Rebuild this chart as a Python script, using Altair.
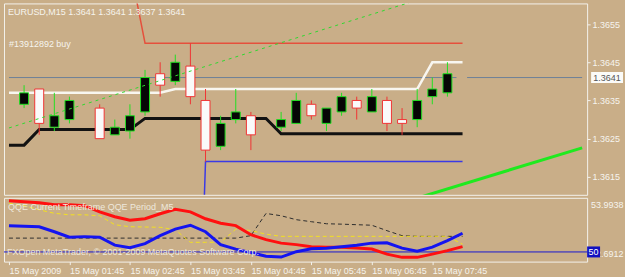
import json
import altair as alt
import pandas as pd

FONT = "Liberation Sans"
BG = "#C9AE88"
FRAME = "#F3F1EB"
TXT = "#F6F4EE"
GREEN = "#22E022"
RED = "#F03434"

# ---------------- texts ----------------
HEADER = "EURUSD,M15  1.3641 1.3641 1.3637 1.3641"
ORDER_LABEL = "#13912892 buy"
QQE_LABEL = "QQE Current Timeframe  QQE Period_M5"
COPYRIGHT = "FXOpen MetaTrader, \u00a9 2001-2009 MetaQuotes Software Corp."
QQE_MAX_LABEL = "53.9938"
QQE_MIN_LABEL = "52.6912"
LEVEL_LABEL = "50"
BID_LABEL = "1.3641"

# ---------------- axes ----------------
X_DOMAIN = [-1, 36.91]
PRICE_DOMAIN = [1.36103, 1.36604]
QQE_DOMAIN = [49.287, 53.9938]
PRICE_TICKS = [1.3615, 1.3625, 1.3635, 1.3645, 1.3655]
TIME_TICK_IDX = [-1, 3, 7, 11, 15, 19, 23, 27]
TIME_LABELS = ["15 May 2009", "15 May 01:45", "15 May 02:45", "15 May 03:45",
               "15 May 04:45", "15 May 05:45", "15 May 06:45", "15 May 07:45"]

# ---------------- candles ----------------
BAR_IDX = [0, 1, 2, 3, 5, 6, 7, 8, 9, 10, 11, 12, 13, 14, 15, 17, 18, 19, 20, 21, 22, 23, 24, 25, 26, 27, 28]
OPEN = [1.3634, 1.3638, 1.3628, 1.3630, 1.3633, 1.3626, 1.3627, 1.3632, 1.3642, 1.3640, 1.3644, 1.3635, 1.3623,
        1.3630, 1.3631, 1.3628, 1.3629, 1.3634, 1.3629, 1.3632, 1.3635, 1.3632, 1.3635, 1.3630, 1.3630, 1.3636, 1.3637]
HIGH = [1.3639, 1.3638, 1.3637, 1.3636, 1.3634, 1.3630, 1.3634, 1.3643, 1.3645, 1.3647, 1.3650, 1.3638, 1.3631,
        1.3638, 1.3632, 1.3632, 1.3637, 1.3635, 1.3633, 1.3637, 1.3636, 1.3638, 1.3636, 1.3633, 1.3638, 1.3641, 1.3645]
LOW = [1.3633, 1.3626, 1.3627, 1.3629, 1.3625, 1.3626, 1.3625, 1.3631, 1.3636, 1.3639, 1.3634, 1.3619, 1.3622,
       1.3629, 1.3622, 1.3627, 1.3629, 1.3630, 1.3627, 1.3631, 1.3630, 1.3632, 1.3627, 1.3626, 1.3628, 1.3634, 1.3636]
CLOSE = [1.3637, 1.3629, 1.3631, 1.3635, 1.3625, 1.3628, 1.3631, 1.3641, 1.3639, 1.3645, 1.3636, 1.3622, 1.3629,
         1.3632, 1.3626, 1.3630, 1.3635, 1.3631, 1.3633, 1.3636, 1.3633, 1.3636, 1.3629, 1.3629, 1.3635, 1.3638, 1.3642]

# ---------------- main-panel indicator lines ----------------
LINE_IDX = [-1, 0, 1, 2, 3, 4, 5, 6, 7, 8, 9, 10, 11, 12, 13, 14, 15, 16, 17, 18, 19, 20,
            21, 22, 23, 24, 25, 26, 27, 28, 29]
WHITE_LINE = [1.3637, 1.3637, 1.3637, 1.3637, 1.3637, 1.3637, 1.3637, 1.3637, 1.3637, 1.3637, 1.3637,
              1.3638, 1.3638, 1.3638, 1.3638, 1.3638, 1.3638, 1.3638, 1.3638, 1.3638, 1.3638, 1.3638,
              1.3638, 1.3638, 1.3638, 1.3638, 1.3638, 1.3638, 1.3645, 1.3645, 1.3645]
BLACK_LINE = [1.36233, 1.36233, 1.36274, 1.36274, 1.36274, 1.36274, 1.36274, 1.36274, 1.36274,
              1.36303, 1.36303, 1.36303, 1.36303, 1.36303, 1.36303, 1.36303, 1.36303, 1.36303,
              1.36263, 1.36263, 1.36263, 1.36263, 1.36263, 1.36263, 1.36263, 1.36263, 1.36263,
              1.36263, 1.36263, 1.36263, 1.36263]
TP_IDX = [7, 8, 9, 10, 11, 12, 13, 14, 15, 16, 17, 18, 19, 20, 21, 22, 23, 24, 25, 26, 27, 28, 29]
TP_LINE = [1.3670, 1.3650, 1.3650, 1.3650, 1.3650, 1.3650, 1.3650, 1.3650, 1.3650, 1.3650, 1.3650, 1.3650,
           1.3650, 1.3650, 1.3650, 1.3650, 1.3650, 1.3650, 1.3650, 1.3650, 1.3650, 1.3650, 1.3650]
SL_IDX = [11, 12, 13, 14, 15, 16, 17, 18, 19, 20, 21, 22, 23, 24, 25, 26, 27, 28, 29]
SL_LINE = [1.3500, 1.3619, 1.3619, 1.3619, 1.3619, 1.3619, 1.3619, 1.3619, 1.3619, 1.3619, 1.3619,
           1.3619, 1.3619, 1.3619, 1.3619, 1.3619, 1.3619, 1.3619, 1.3619]
# price lines (start idx, end idx, price)
PRICE_LINE_START = [-1, 29.3]
PRICE_LINE_END = [28.6, 36.91]
PRICE_LINE_VALUE = [1.3641, 1.3641]
# channel trend lines
TREND_DOT_IDX = [-1, 36.91]
TREND_DOT_PRICE = [1.36278, 1.36748]
TREND_SOLID_IDX = [20, 36.91]
TREND_SOLID_PRICE = [1.36022, 1.36226]

# ---------------- QQE sub-window ----------------
QQE_RED = [53.77, 53.70, 53.63, 53.48, 53.48, 53.41, 52.96, 52.60, 52.34, 52.45, 52.82, 53.15, 52.96, 52.45,
           52.12, 51.94, 51.27, 50.91, 50.65, 50.54, 50.39, 50.34, 50.34, 50.29, 50.22, 49.84, 49.60, 49.60,
           49.84, 50.10, 50.39]
QQE_BLUE = [51.94, 51.90, 51.86, 51.49, 51.09, 51.13, 51.09, 50.50, 50.32, 50.61, 51.20, 51.68, 51.97, 51.49,
            50.54, 50.21, 49.95, 49.69, 49.62, 50.02, 50.24, 50.28, 50.39, 50.50, 50.65, 50.68, 50.28, 50.06,
            50.35, 50.83, 51.38]
QQE_YELLOW = [53.59, 53.41, 53.11, 52.85, 52.74, 52.74, 52.67, 52.01, 51.86, 51.84, 51.82, 51.64, 50.71, 50.71,
              50.71, 51.68, 51.58, 51.31, 51.15, 51.15, 51.15, 51.15, 51.15, 51.15, 51.15, 51.15, 51.15, 51.15,
              51.15, 51.15, 50.57]
QQE_DARK = [51.02, 51.02, 51.02, 51.02, 51.02, 51.02, 51.02, 51.02, 51.02, 51.02, 51.02, 51.02, 51.02, 51.02,
            51.02, 51.02, 51.20, 52.84, 52.67, 52.38, 52.23, 52.08, 52.05, 52.01, 51.97, 51.57, 51.20, 51.15,
            51.15, 51.15, 51.15]
QQE_LEVEL = [50]

# ================= build =================
W, H_TOP, H_BOT = 585, 192, 64

xs = alt.Scale(domain=X_DOMAIN, nice=False, zero=False)
ps = alt.Scale(domain=PRICE_DOMAIN, nice=False, zero=False)
qs = alt.Scale(domain=QQE_DOMAIN, nice=False, zero=False)

price_axis = alt.Axis(orient="right", values=PRICE_TICKS, format=".4f", tickSize=3, tickColor=FRAME,
                      labelColor=TXT, labelFont=FONT, labelFontSize=9, labelPadding=2, domain=False,
                      grid=False, title=None)
label_expr = f"{json.dumps(TIME_LABELS)}[indexof({json.dumps(TIME_TICK_IDX)}, datum.value)]"
time_axis = alt.Axis(values=TIME_TICK_IDX, labelExpr=label_expr, tickSize=3, tickColor=FRAME,
                     labelColor=TXT, labelFont=FONT, labelFontSize=9, labelAlign="left", labelPadding=2,
                     labelBaseline="top", labelOverlap=False, labelFlush=False, domain=False, grid=False,
                     title=None)


def XT(f="idx"):
    return alt.X(f"{f}:Q", scale=xs, axis=None)


def XB(f="idx"):
    return alt.X(f"{f}:Q", scale=xs, axis=time_axis)


def YP(f="p"):
    return alt.Y(f"{f}:Q", scale=ps, axis=price_axis)


def YQ(f="v"):
    return alt.Y(f"{f}:Q", scale=qs, axis=None)


candles = pd.DataFrame({"idx": BAR_IDX, "o": OPEN, "h": HIGH, "l": LOW, "c": CLOSE})
candles["kind"] = ["up" if c > o else "down" for o, c in zip(OPEN, CLOSE)]
candles["blo"] = candles[["o", "c"]].min(axis=1)
candles["bhi"] = candles[["o", "c"]].max(axis=1)

white_df = pd.DataFrame({"idx": LINE_IDX, "p": WHITE_LINE})
black_df = pd.DataFrame({"idx": LINE_IDX, "p": BLACK_LINE})
tp_df = pd.DataFrame({"idx": TP_IDX, "p": TP_LINE})
sl_df = pd.DataFrame({"idx": SL_IDX, "p": SL_LINE})
pl_df = pd.DataFrame({"idx": PRICE_LINE_START, "idx2": PRICE_LINE_END, "p": PRICE_LINE_VALUE})
tdot_df = pd.DataFrame({"idx": TREND_DOT_IDX, "p": TREND_DOT_PRICE})
tsol_df = pd.DataFrame({"idx": TREND_SOLID_IDX, "p": TREND_SOLID_PRICE})

kind_scale_line = alt.Scale(domain=["up", "down"], range=[GREEN, RED])
kind_scale_fill = alt.Scale(domain=["up", "down"], range=["#060606", "#FAFAFA"])

price_lines = alt.Chart(pl_df).mark_rule(color="#6E8198", strokeWidth=1).encode(
    x=XT(), x2="idx2:Q", y=YP())
white_l = alt.Chart(white_df).mark_line(color="#F8F6F0", strokeWidth=2.5, clip=True).encode(x=XT(), y=YP())
black_l = alt.Chart(black_df).mark_line(color="#121212", strokeWidth=3, clip=True).encode(x=XT(), y=YP())
tp_l = alt.Chart(tp_df).mark_line(color="#E5503C", strokeWidth=1.5, clip=True).encode(x=XT(), y=YP())
sl_l = alt.Chart(sl_df).mark_line(color="#3A3AE6", strokeWidth=1.5, clip=True).encode(x=XT(), y=YP())
wicks = alt.Chart(candles).mark_rule(strokeWidth=1).encode(
    x=XT(), y=YP("l"), y2="h:Q",
    color=alt.Color("kind:N", scale=kind_scale_line, legend=None))
bodies = alt.Chart(candles).mark_bar(size=9, strokeWidth=1).encode(
    x=XT(), y=YP("blo"), y2="bhi:Q",
    fill=alt.Fill("kind:N", scale=kind_scale_fill, legend=None),
    stroke=alt.Stroke("kind:N", scale=kind_scale_line, legend=None))
tdot = alt.Chart(tdot_df).mark_line(color="#2FD82F", strokeWidth=1, strokeDash=[3, 4], clip=True).encode(
    x=XT(), y=YP())
tsol = alt.Chart(tsol_df).mark_line(color="#1FEA1F", strokeWidth=3, clip=True).encode(x=XT(), y=YP())

bid_df = pd.DataFrame({"p": [PRICE_LINE_VALUE[1]], "t": [BID_LABEL]})
bid_box = alt.Chart(bid_df).mark_point(
    shape="M-1,-0.344L1,-0.344L1,0.344L-1,0.344Z", size=1024, filled=True, opacity=1,
    color="#FBFBF8").encode(x=alt.value(605), y=YP())
bid_txt = alt.Chart(bid_df).mark_text(font=FONT, fontSize=9, color="#555555", align="center",
                                      baseline="middle").encode(x=alt.value(605), y=YP(), text="t:N")

hdr = alt.Chart(pd.DataFrame({"t": [HEADER]})).mark_text(
    font=FONT, fontSize=9, color=TXT, align="left", baseline="middle").encode(
    x=alt.value(4), y=alt.value(8.5), text="t:N")
ordl = alt.Chart(pd.DataFrame({"t": [ORDER_LABEL]})).mark_text(
    font=FONT, fontSize=9, color=TXT, align="left", baseline="middle").encode(
    x=alt.value(5), y=alt.value(41), text="t:N")

top = alt.layer(price_lines, tp_l, sl_l, white_l, black_l, wicks, bodies, tdot, tsol,
                bid_box, bid_txt, hdr, ordl).properties(width=W, height=H_TOP)

# ---- QQE panel ----
q_df = pd.DataFrame({"idx": LINE_IDX, "red": QQE_RED, "blue": QQE_BLUE, "yel": QQE_YELLOW, "dark": QQE_DARK})
lvl_df = pd.DataFrame({"v": QQE_LEVEL, "t": [LEVEL_LABEL]})

lvl = alt.Chart(lvl_df).mark_rule(color="#1818D0", strokeWidth=1).encode(y=YQ())
dark = alt.Chart(q_df).mark_line(color="#2E2E2E", strokeWidth=1, strokeDash=[4, 3], clip=True).encode(
    x=XB(), y=YQ("dark"))
yel = alt.Chart(q_df).mark_line(color="#F2E020", strokeWidth=1, strokeDash=[4, 3], clip=True).encode(
    x=XB(), y=YQ("yel"))
red = alt.Chart(q_df).mark_line(color="#FF1010", strokeWidth=3, clip=True).encode(x=XB(), y=YQ("red"))
blue = alt.Chart(q_df).mark_line(color="#1414F0", strokeWidth=3, clip=True).encode(x=XB(), y=YQ("blue"))

qlab = alt.Chart(pd.DataFrame({"t": [QQE_LABEL]})).mark_text(
    font=FONT, fontSize=9, color="#EEE8DC", align="left", baseline="middle").encode(
    x=alt.value(4), y=alt.value(9), text="t:N")
copy = alt.Chart(pd.DataFrame({"t": [COPYRIGHT]})).mark_text(
    font=FONT, fontSize=9, color="#EEE8DC", align="left", baseline="middle").encode(
    x=alt.value(3), y=alt.value(54.5), text="t:N")
qmax = alt.Chart(pd.DataFrame({"t": [QQE_MAX_LABEL]})).mark_text(
    font=FONT, fontSize=9, color=TXT, align="left", baseline="middle").encode(
    x=alt.value(589), y=alt.value(7), text="t:N")
qmin = alt.Chart(pd.DataFrame({"t": [QQE_MIN_LABEL]})).mark_text(
    font=FONT, fontSize=9, color=TXT, align="left", baseline="middle").encode(
    x=alt.value(589), y=alt.value(56), text="t:N")
lbox = alt.Chart(lvl_df).mark_point(
    shape="M-1,-0.846L1,-0.846L1,0.846L-1,0.846Z", size=169, filled=True, opacity=1,
    color="#1010C0").encode(x=alt.value(591.5), y=YQ())
ltxt = alt.Chart(lvl_df).mark_text(font=FONT, fontSize=9, color="#FFFFFF", align="center",
                                   baseline="middle").encode(x=alt.value(591.5), y=YQ(), text="t:N")

bottom = alt.layer(lvl, dark, yel, red, blue, qlab, copy, qmax, qmin, lbox, ltxt).properties(
    width=W, height=H_BOT)

chart = alt.vconcat(top, bottom, spacing=3, bounds="flush").resolve_scale(
    x="shared").configure(
    background=BG, padding={"left": 3, "top": 2, "right": 0, "bottom": 0}, font=FONT
).configure_view(stroke=FRAME, strokeWidth=1)

chart.save("out.html", embed_options={"renderer": "svg", "actions": False})
